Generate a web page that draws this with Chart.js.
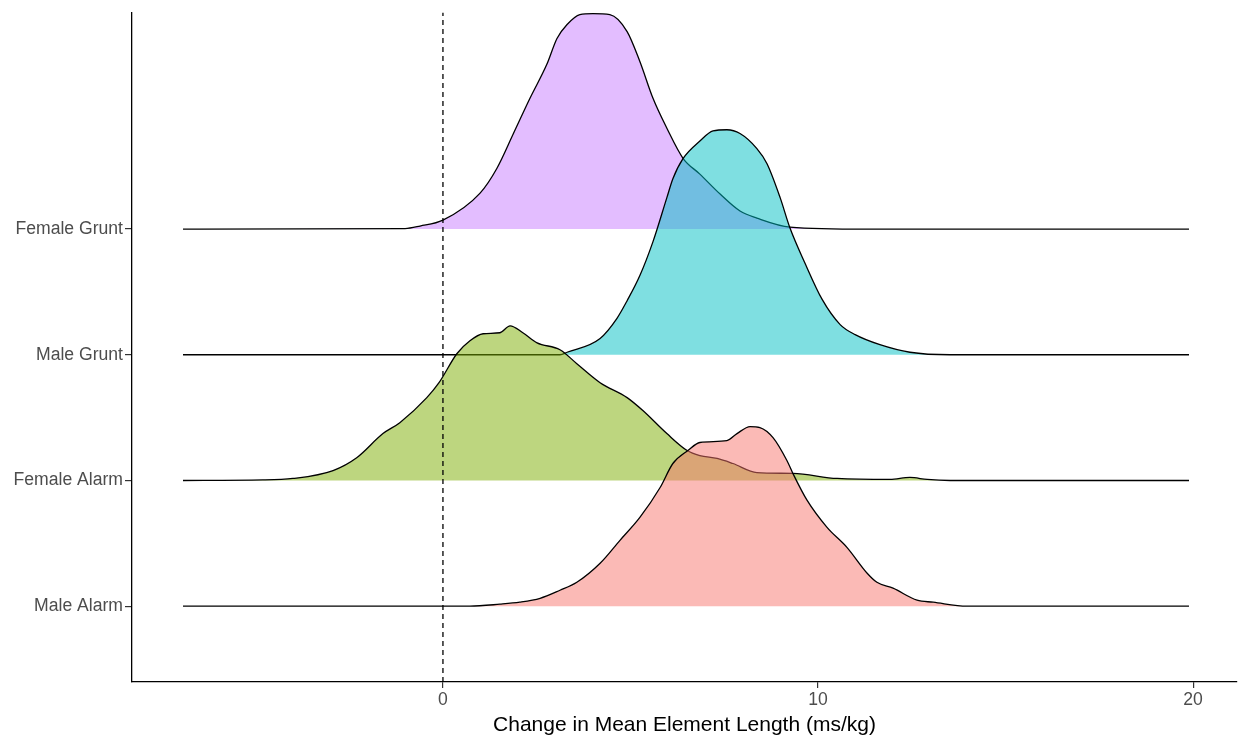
<!DOCTYPE html>
<html>
<head>
<meta charset="utf-8">
<script src="https://cdn.jsdelivr.net/npm/chart.js@4"></script>
<style>
  body { margin: 0; background: #fff; }
  canvas { display: block; }
</style>
</head>
<body>
<canvas id="myChart" width="1238" height="743"></canvas>
<script>
// groups, bottom to top (baseline = 1, 2, 3, 4)
const GROUPS = ['Male Alarm', 'Female Alarm', 'Male Grunt', 'Female Grunt'];
const X_TICKS = [0, 10, 20];

// ridge heights (in y units above each baseline)
const maleAlarmX = [-6.93, 0.72, 1.52, 2.05, 2.59, 3.12, 3.57, 4.19, 4.72, 5.25, 5.79, 6.13, 6.53, 6.85, 7.57, 7.84, 8.19, 8.45, 8.8, 9.17, 9.33, 9.71, 10.24, 10.77, 11.31, 11.57, 12.0, 12.64, 13.07, 13.97, 19.89];
const maleAlarmH = [0, 0, 0.016, 0.032, 0.063, 0.127, 0.19, 0.341, 0.524, 0.706, 0.944, 1.135, 1.238, 1.302, 1.317, 1.373, 1.429, 1.421, 1.341, 1.159, 1.056, 0.841, 0.627, 0.468, 0.262, 0.19, 0.143, 0.048, 0.032, 0, 0];

const femaleAlarmX = [-6.93, -4.8, -4.0, -2.93, -2.29, -1.6, -1.15, -0.43, -0.1, 0.37, 0.72, 1.07, 1.52, 1.79, 2.13, 2.51, 3.12, 3.57, 4.19, 4.91, 5.33, 5.97, 6.51, 6.85, 7.31, 7.73, 8.37, 9.33, 10.51, 11.92, 12.45, 12.91, 13.52, 19.89];
const femaleAlarmH = [0, 0.004, 0.016, 0.079, 0.183, 0.373, 0.46, 0.659, 0.78, 1.008, 1.111, 1.167, 1.175, 1.23, 1.175, 1.095, 1.04, 0.929, 0.778, 0.659, 0.556, 0.373, 0.238, 0.198, 0.175, 0.135, 0.063, 0.056, 0.016, 0.008, 0.024, 0.008, 0, 0];

const maleGruntX = [-6.93, 3.12, 3.31, 4.19, 4.64, 4.91, 5.25, 5.6, 5.97, 6.13, 6.4, 6.85, 7.2, 7.57, 7.92, 8.37, 8.64, 8.99, 9.25, 9.65, 10.11, 10.59, 10.99, 11.65, 12.45, 13.52, 19.89];
const maleGruntH = [0, 0, 0.02, 0.13, 0.29, 0.43, 0.63, 0.9, 1.25, 1.4, 1.56, 1.7, 1.78, 1.79, 1.76, 1.64, 1.52, 1.25, 1.01, 0.73, 0.44, 0.24, 0.16, 0.08, 0.02, 0, 0];

const femaleGruntX = [-6.93, -1.01, -0.61, 0, 0.99, 1.44, 1.87, 2.32, 2.77, 3.04, 3.31, 3.65, 4.0, 4.45, 4.91, 5.25, 5.6, 5.97, 6.4, 6.85, 7.39, 7.92, 8.37, 9.25, 11.28, 19.89];
const femaleGruntH = [0, 0.004, 0.024, 0.071, 0.286, 0.484, 0.754, 1.04, 1.31, 1.516, 1.627, 1.706, 1.714, 1.706, 1.571, 1.333, 1.04, 0.802, 0.563, 0.437, 0.278, 0.143, 0.087, 0.016, 0, 0];

const X_MIN = -8.29, X_MAX = 21.17;
const Y_MIN = 0.397, Y_MAX = 5.722;

const fills = [
  'rgba(248, 118, 109, 0.5)',
  'rgba(124, 174, 0, 0.5)',
  'rgba(0, 191, 196, 0.5)',
  'rgba(199, 124, 255, 0.5)'
];

function ridge(xs, hs, base, color) {
  return {
    data: xs.map((x, i) => ({ x: x, y: base + hs[i] })),
    borderColor: '#000',
    borderWidth: 1.3,
    backgroundColor: color,
    fill: { value: base },
    pointRadius: 0,
    cubicInterpolationMode: 'monotone'
  };
}

const tickFont = { family: 'Liberation Sans, Arial, sans-serif', size: 17.6 };

config = {
  type: 'line',
  data: {
    datasets: [
      {
        data: [{ x: 0, y: Y_MIN }, { x: 0, y: Y_MAX }],
        borderColor: '#000',
        borderWidth: 1.3,
        borderDash: [5, 4],
        pointRadius: 0,
        fill: false
      },
      ridge(maleAlarmX, maleAlarmH, 1, fills[0]),
      ridge(femaleAlarmX, femaleAlarmH, 2, fills[1]),
      ridge(maleGruntX, maleGruntH, 3, fills[2]),
      ridge(femaleGruntX, femaleGruntH, 4, fills[3])
    ]
  },
  options: {
    responsive: false,
    animation: false,
    devicePixelRatio: 1,
    layout: { padding: { top: 11, right: 1, left: 0, bottom: 0 } },
    scales: {
      x: {
        type: 'linear',
        min: X_MIN,
        max: X_MAX,
        afterBuildTicks: (scale) => { scale.ticks = X_TICKS.map(v => ({ value: v })); },
        afterFit: (scale) => { scale.height = 61; },
        border: { display: true, color: '#000', width: 1.3 },
        grid: { display: true, drawOnChartArea: false, tickLength: 6, color: '#333', lineWidth: 1.2 },
        ticks: { color: '#4D4D4D', font: tickFont, padding: 2, maxRotation: 0 },
        title: {
          display: true,
          text: 'Change in Mean Element Length (ms/kg)',
          color: '#000',
          font: { family: 'Liberation Sans, Arial, sans-serif', size: 21 },
          padding: { top: 0, bottom: 5 }
        }
      },
      y: {
        type: 'linear',
        min: Y_MIN,
        max: Y_MAX,
        afterBuildTicks: (scale) => { scale.ticks = GROUPS.map((g, i) => ({ value: i + 1 })); },
        afterFit: (scale) => { scale.width = 132; },
        border: { display: true, color: '#000', width: 1.3 },
        grid: { display: true, drawOnChartArea: false, tickLength: 7, color: '#333', lineWidth: 1.2 },
        ticks: {
          color: '#4D4D4D',
          font: tickFont,
          padding: 2,
          callback: (v) => GROUPS[v - 1]
        }
      }
    },
    plugins: {
      legend: { display: false },
      tooltip: { enabled: false }
    }
  }
};

function buildChart(){
  const ctx = document.getElementById('myChart').getContext('2d');
  const myChart = new Chart(ctx, config);
  return myChart;
}

window.addEventListener('load', () => {
  const myChart = buildChart();
});
</script>
</body>
</html>
